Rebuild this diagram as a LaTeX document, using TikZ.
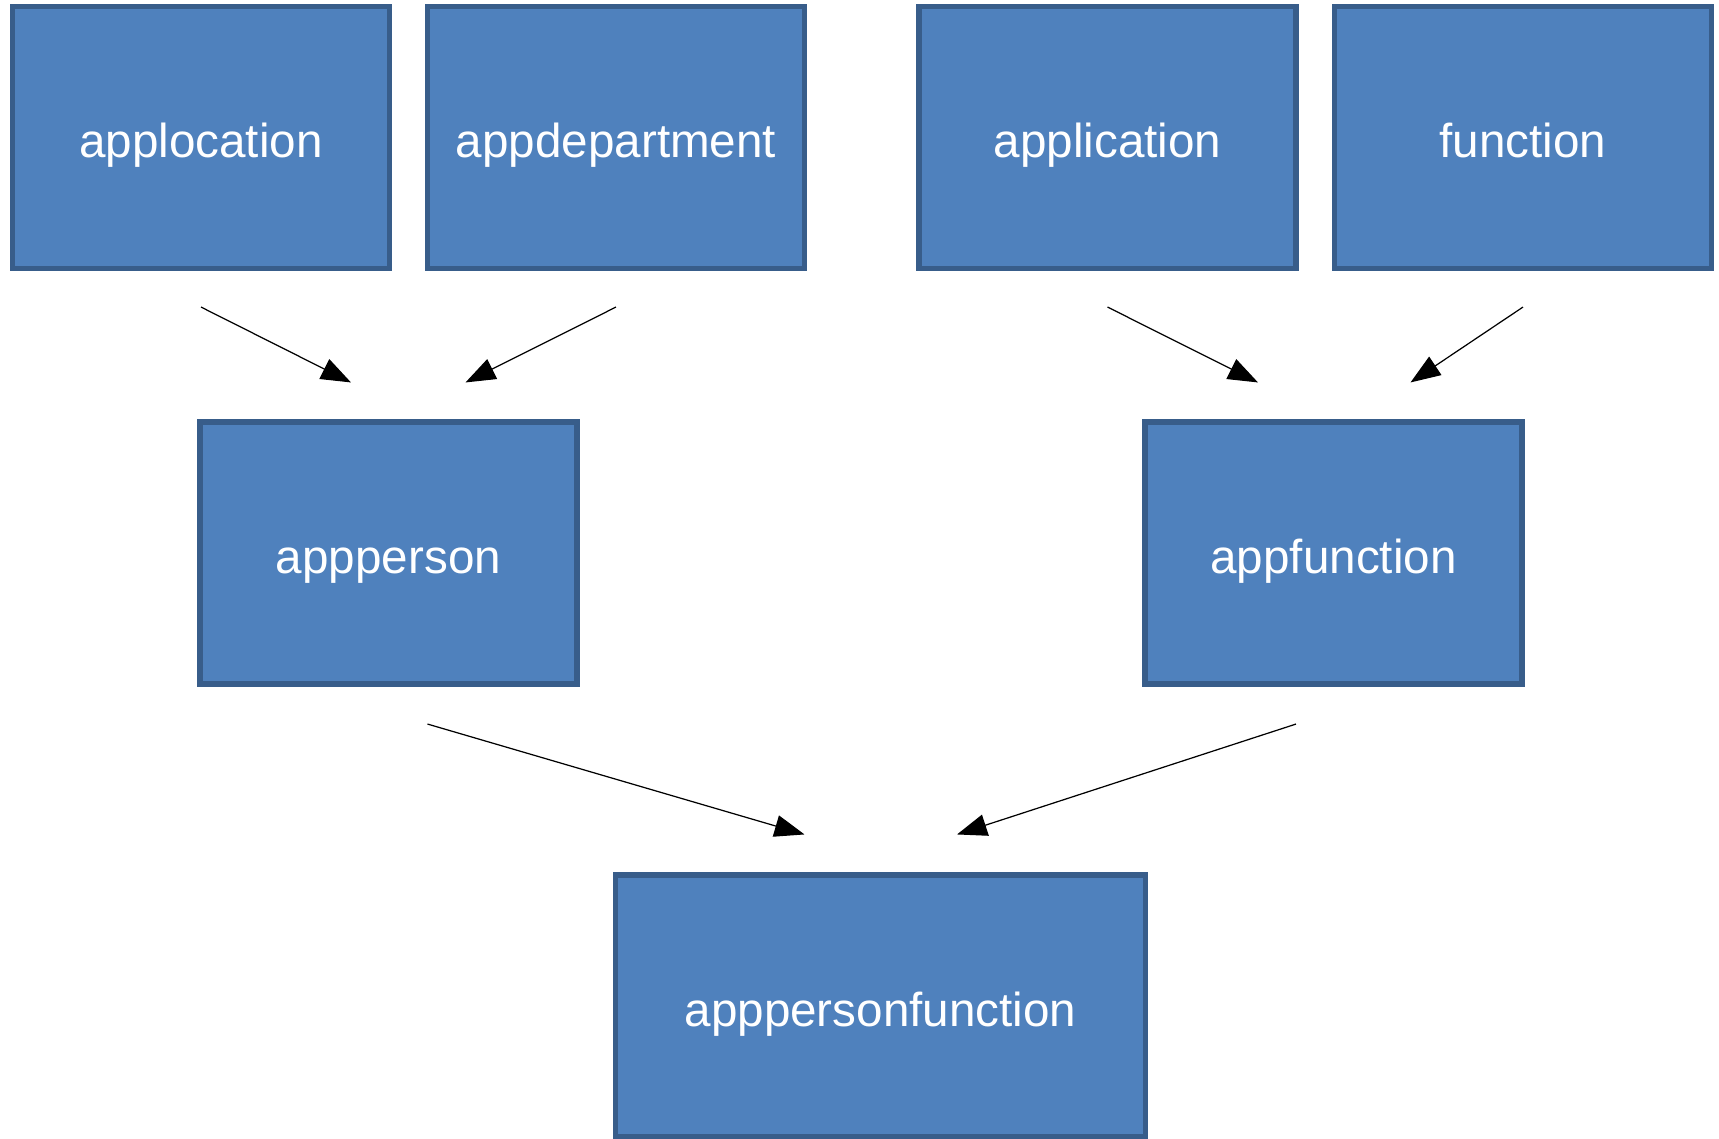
\documentclass[tikz,border=0pt]{standalone}
\usepackage{fontspec}
\setmainfont{Liberation Sans}
\usetikzlibrary{arrows.meta}
\definecolor{boxfill}{HTML}{4F81BD}
\definecolor{boxline}{HTML}{385D8A}
\tikzset{
  tbl/.style={draw=boxline,fill=boxfill,line width=2.9pt,text=white,
    minimum width=7.54cm,minimum height=5.24cm,text height=23pt,text depth=0pt,
    font=\fontsize{27.1}{32}\selectfont},
  dep/.style={->,line width=0.7pt,>={Triangle[length=17pt,width=12.5pt]}}
}
\begin{document}
\begin{tikzpicture}
            \useasboundingbox (0,0) rectangle (34.38,-22.78);
            % source tables
            \node[tbl](loc) at (4.02,-2.75) {applocation};
            \node[tbl](dep) at (12.32,-2.75) {appdepartment};
            \node[tbl](app) at (22.15,-2.75) {application};
            \node[tbl](fun) at (30.46,-2.75) {function};
            % link tables
            \node[tbl](per) at (7.77,-11.06) {appperson};
            \node[tbl](afn) at (26.67,-11.06) {appfunction};
            \node[tbl,minimum width=10.6cm](apf) at (17.61,-20.12) {apppersonfunction};

            \draw[dep] ([yshift=-0.72cm]loc.south) -- ([shift={(-0.75,0.74)}]per.north);
            \draw[dep] ([yshift=-0.72cm]dep.south) -- ([shift={(1.54,0.74)}]per.north);
            \draw[dep] ([yshift=-0.72cm]app.south) -- ([shift={(-1.51,0.74)}]afn.north);
            \draw[dep] ([yshift=-0.72cm]fun.south) -- ([shift={(1.54,0.74)}]afn.north);
            \draw[dep] ([shift={(0.78,-0.75)}]per.south) -- ([shift={(-1.52,0.76)}]apf.north);
            \draw[dep] ([shift={(-0.75,-0.75)}]afn.south) -- ([shift={(1.53,0.76)}]apf.north);
\end{tikzpicture}
\end{document}
